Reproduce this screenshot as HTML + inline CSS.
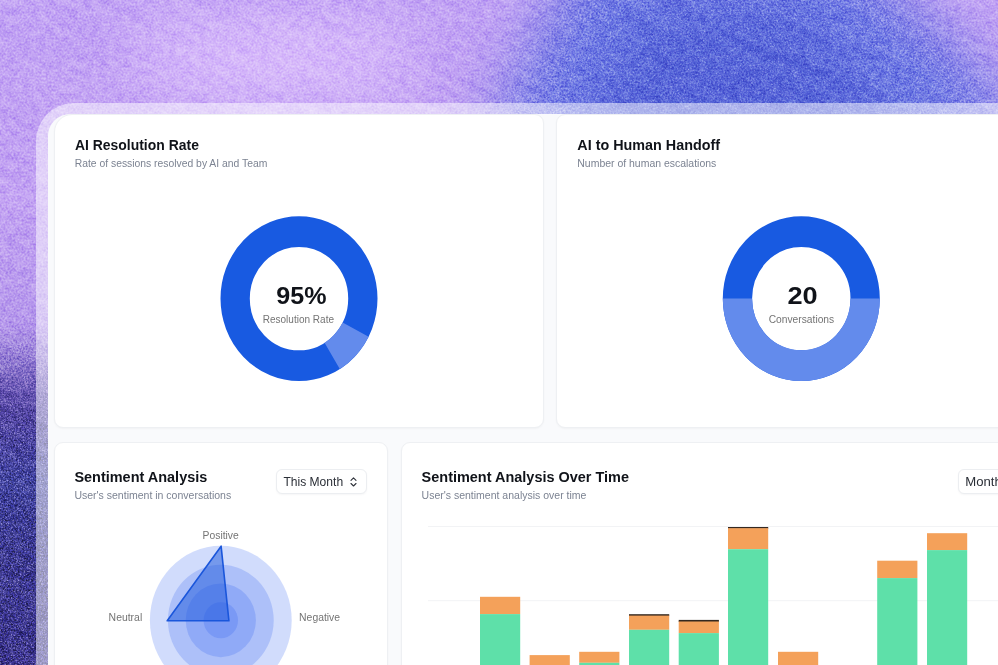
<!DOCTYPE html>
<html>
<head>
<meta charset="utf-8">
<title>Dashboard</title>
<style>
html,body{margin:0;padding:0;}
body{width:998px;height:665px;overflow:hidden;position:relative;background:#b79cf0;font-family:"Liberation Sans",sans-serif;}
#bg{position:absolute;left:0;top:0;width:998px;height:665px;display:block;}
#frame{position:absolute;left:36px;top:102.5px;width:1100px;height:700px;border-radius:38px 0 0 0;background:rgba(255,255,255,0.5);}
#app{position:absolute;left:48px;top:113.7px;width:1100px;height:700px;border-radius:22px 0 0 0;background:#f9fafc;overflow:hidden;}
.card{position:absolute;background:#fff;border:1px solid #eef0f3;border-radius:9px;box-shadow:0 1px 2px rgba(16,24,40,0.035);box-sizing:border-box;}
.btn{position:absolute;background:#fff;border:1px solid #eceef1;border-radius:6px;box-shadow:0 1px 2px rgba(16,24,40,0.04);box-sizing:border-box;}
#ov{position:absolute;left:0;top:0;width:998px;height:665px;display:block;}
#ov text{font-family:"Liberation Sans",sans-serif;}
.h{font-weight:bold;fill:#101319;}
.s{fill:#7c8392;}
.g{fill:#747474;}
.b{fill:#2b2f37;}
</style>
</head>
<body>
<svg id="bg" width="998" height="665" viewBox="0 0 998 665">
  <defs>
    <linearGradient id="lv" x1="0" y1="0" x2="0" y2="665" gradientUnits="userSpaceOnUse">
      <stop offset="0" stop-color="#c2a3f4"/>
      <stop offset="0.30" stop-color="#c1a0f2"/>
      <stop offset="0.49" stop-color="#b698ec"/>
      <stop offset="0.54" stop-color="#9078d2"/>
      <stop offset="0.585" stop-color="#6653b2"/>
      <stop offset="0.63" stop-color="#4b3f9d"/>
      <stop offset="0.72" stop-color="#3b3d99"/>
      <stop offset="0.84" stop-color="#36338b"/>
      <stop offset="1" stop-color="#342d85"/>
    </linearGradient>
    <filter id="blur40" x="-50%" y="-50%" width="200%" height="200%"><feGaussianBlur stdDeviation="32"/></filter>
    <filter id="blur25" x="-50%" y="-50%" width="200%" height="200%"><feGaussianBlur stdDeviation="22"/></filter>
    <filter id="mottle" x="0" y="0" width="100%" height="100%" color-interpolation-filters="sRGB">
      <feTurbulence type="fractalNoise" baseFrequency="0.012 0.11" numOctaves="3" seed="11"/>
      <feColorMatrix type="matrix" values="2.4 0 0 0 -0.7  2.4 0 0 0 -0.7  2.4 0 0 0 -0.7  0 0 0 0 1"/>
    </filter>
    <filter id="blotch" x="0" y="0" width="100%" height="100%" color-interpolation-filters="sRGB">
      <feTurbulence type="fractalNoise" baseFrequency="0.13" numOctaves="3" seed="5"/>
      <feColorMatrix type="matrix" values="2.6 0 0 0 -0.8  2.6 0 0 0 -0.8  2.6 0 0 0 -0.8  0 0 0 0 1"/>
    </filter>
    <filter id="spk" x="0" y="0" width="100%" height="100%" color-interpolation-filters="sRGB">
      <feTurbulence type="fractalNoise" baseFrequency="0.7" numOctaves="2" seed="31"/>
      <feColorMatrix type="matrix" values="0 0 0 0 0.86  0 0 0 0 0.82  0 0 0 0 1  5 0 0 0 -2.75"/>
    </filter>
    <linearGradient id="dmg" x1="0" y1="300" x2="0" y2="430" gradientUnits="userSpaceOnUse">
      <stop offset="0" stop-color="#000"/><stop offset="1" stop-color="#fff"/>
    </linearGradient>
    <mask id="dm" maskUnits="userSpaceOnUse" x="0" y="0" width="998" height="665">
      <rect x="0" y="0" width="60" height="665" fill="url(#dmg)"/>
      <polygon points="600,-60 850,-60 1050,150 470,150" fill="#666" filter="url(#blur25)"/>
    </mask>
    <filter id="noise2" x="0" y="0" width="100%" height="100%" color-interpolation-filters="sRGB">
      <feTurbulence type="fractalNoise" baseFrequency="0.6" numOctaves="3" seed="19"/>
      <feColorMatrix type="matrix" values="2.4 0 0 0 -0.7  2.4 0 0 0 -0.7  2.4 0 0 0 -0.7  0 0 0 0 1"/>
    </filter>
    <filter id="noise" x="0" y="0" width="100%" height="100%" color-interpolation-filters="sRGB">
      <feTurbulence type="fractalNoise" baseFrequency="0.5" numOctaves="3" seed="7"/>
      <feColorMatrix type="matrix" values="1.9 0 0 0 -0.44  1.9 0 0 0 -0.44  1.9 0 0 0 -0.44  0 0 0 0 1"/>
    </filter>
  </defs>
  <rect width="998" height="665" fill="url(#lv)"/>
  <ellipse cx="275" cy="60" rx="150" ry="40" fill="#dbbefc" filter="url(#blur40)"/>
  <polygon points="590,-60 840,-60 1060,150 480,150" fill="#6b77e3" filter="url(#blur40)"/>
  <polygon points="640,20 790,10 940,150 570,150" fill="#5563d8" filter="url(#blur25)"/>
  <g transform="rotate(27 500 50)"><rect x="-300" y="-700" width="1700" height="1700" filter="url(#mottle)" style="mix-blend-mode:soft-light" opacity="0.1"/></g>
  <rect width="998" height="665" filter="url(#blotch)" style="mix-blend-mode:soft-light" opacity="0.17"/>
  <rect width="998" height="665" filter="url(#noise)" style="mix-blend-mode:overlay" opacity="0.24"/>
  <rect width="998" height="665" filter="url(#spk)" opacity="0.12"/>
  <g mask="url(#dm)" style="mix-blend-mode:overlay" opacity="0.4">
    <rect width="998" height="665" filter="url(#noise2)"/>
  </g>
  <g mask="url(#dm)" opacity="0.3">
    <rect width="998" height="665" filter="url(#spk)"/>
  </g>
</svg>

<div id="frame"></div>
<div id="app"></div>

<div class="card" style="left:53.6px;top:113.7px;width:490.2px;height:314.4px;border-radius:18px 9px 9px 9px;"></div>
<div class="card" style="left:556.2px;top:113.7px;width:500px;height:314.4px;"></div>
<div class="card" style="left:53.6px;top:442.1px;width:334.6px;height:300px;"></div>
<div class="card" style="left:400.9px;top:442.1px;width:700px;height:300px;"></div>

<div class="btn" style="left:275.5px;top:469.3px;width:91px;height:24.8px;"></div>
<div class="btn" style="left:957.7px;top:469.3px;width:91px;height:24.8px;"></div>

<svg id="ov" width="998" height="665" viewBox="0 0 998 665">
  <!-- donut 1 -->
  <g transform="translate(299,298.6) scale(1,1.05)">
    <circle r="63.85" fill="none" stroke="#185ae1" stroke-width="29.3"/>
    <path d="M 69.63 36.25 A 78.5 78.5 0 0 1 40.78 67.08 L 25.56 42.04 A 49.2 49.2 0 0 0 43.64 22.72 Z" fill="#638bec"/>
  </g>
  <!-- donut 2 -->
  <g transform="translate(801.3,298.6) scale(1,1.05)">
    <circle r="63.85" fill="none" stroke="#185ae1" stroke-width="29.3"/>
    <path d="M -78.5 0 A 78.5 78.5 0 0 0 78.5 0 L 49.2 0 A 49.2 49.2 0 0 1 -49.2 0 Z" fill="#638bec"/>
  </g>
  <g stroke="#f2f3f5" stroke-width="1">
    <line x1="428" y1="526.5" x2="998" y2="526.5"/>
    <line x1="428" y1="600.7" x2="998" y2="600.7"/>
  </g>
  <g shape-rendering="auto">
    <rect x="480.0" y="596.8" width="40.2" height="17.3" fill="#f4a15a"/>
    <rect x="480.0" y="614.1" width="40.2" height="55.9" fill="#5ee0a9"/>
    <rect x="529.6" y="655.1" width="40.2" height="15.4" fill="#f4a15a"/>
    <rect x="579.2" y="651.8" width="40.2" height="11.0" fill="#f4a15a"/>
    <rect x="579.2" y="662.8" width="40.2" height="7.2" fill="#5ee0a9"/>
    <rect x="629.0" y="614.2" width="40.2" height="1.9" fill="#35281f"/>
    <rect x="629.0" y="615.6" width="40.2" height="14.2" fill="#f4a15a"/>
    <rect x="629.0" y="629.8" width="40.2" height="40.2" fill="#5ee0a9"/>
    <rect x="678.7" y="619.9" width="40.2" height="2.1" fill="#35281f"/>
    <rect x="678.7" y="621.5" width="40.2" height="11.6" fill="#f4a15a"/>
    <rect x="678.7" y="633.1" width="40.2" height="36.9" fill="#5ee0a9"/>
    <rect x="728.0" y="527.0" width="40.2" height="1.7" fill="#35281f"/>
    <rect x="728.0" y="528.2" width="40.2" height="21.0" fill="#f4a15a"/>
    <rect x="728.0" y="549.2" width="40.2" height="120.8" fill="#5ee0a9"/>
    <rect x="778.0" y="651.8" width="40.2" height="18.7" fill="#f4a15a"/>
    <rect x="877.2" y="560.7" width="40.2" height="17.4" fill="#f4a15a"/>
    <rect x="877.2" y="578.1" width="40.2" height="91.9" fill="#5ee0a9"/>
    <rect x="927.0" y="533.2" width="40.2" height="16.9" fill="#f4a15a"/>
    <rect x="927.0" y="550.1" width="40.2" height="119.9" fill="#5ee0a9"/>
  </g>
  <g transform="translate(220.8,620.3) scale(1,1.05)">
    <circle r="70.9" fill="#2c5cf0" fill-opacity="0.215"/>
    <circle r="52.9" fill="#2c5cf0" fill-opacity="0.215"/>
    <circle r="35.1" fill="#2c5cf0" fill-opacity="0.215"/>
    <circle r="17.2" fill="#2c5cf0" fill-opacity="0.215"/>
    <path d="M0.3 -70.6 L8.1 0.4 L-53.6 0.4 Z" fill="#1a56db" fill-opacity="0.5" stroke="#1a56db" stroke-width="1.6" stroke-linejoin="round"/>
  </g>
  <g fill="none" stroke="#30343c" stroke-width="1.1" stroke-linecap="round" stroke-linejoin="round">
    <path d="M351 480.3 L353.5 477.8 L356 480.3"/>
    <path d="M351 483.5 L353.5 486 L356 483.5"/>
  </g>
  <text class="h" transform="translate(74.9,150.3) scale(1,1.07)" font-size="14.4" textLength="124" lengthAdjust="spacingAndGlyphs">AI Resolution Rate</text>
  <text class="s" transform="translate(74.7,167.0) scale(1,1.05)" font-size="10.3" textLength="192.6" lengthAdjust="spacingAndGlyphs">Rate of sessions resolved by AI and Team</text>
  <text class="h" transform="translate(577.3,150.3) scale(1,1.07)" font-size="14.4" textLength="142.7" lengthAdjust="spacingAndGlyphs">AI to Human Handoff</text>
  <text class="s" transform="translate(577.3,167.0) scale(1,1.05)" font-size="10.3" textLength="139" lengthAdjust="spacingAndGlyphs">Number of human escalations</text>
  <text class="h" transform="translate(276.3,304.3) scale(1,1.05)" font-size="23.4" textLength="50.2" lengthAdjust="spacingAndGlyphs">95%</text>
  <text class="g" transform="translate(262.7,322.7) scale(1,1.05)" font-size="10.5" textLength="71.3" lengthAdjust="spacingAndGlyphs">Resolution Rate</text>
  <text class="h" transform="translate(787.5,304.3) scale(1,1.05)" font-size="23.4" textLength="30.2" lengthAdjust="spacingAndGlyphs">20</text>
  <text class="g" transform="translate(768.7,322.7) scale(1,1.05)" font-size="10.5" textLength="65.5" lengthAdjust="spacingAndGlyphs">Conversations</text>
  <text class="h" transform="translate(74.4,481.8) scale(1,1.07)" font-size="14.4" textLength="132.9" lengthAdjust="spacingAndGlyphs">Sentiment Analysis</text>
  <text class="s" transform="translate(74.4,498.6) scale(1,1.05)" font-size="10.3" textLength="156.8" lengthAdjust="spacingAndGlyphs">User's sentiment in conversations</text>
  <text class="b" transform="translate(283.4,486) scale(1,1.05)" font-size="12.6" textLength="59.7" lengthAdjust="spacingAndGlyphs">This Month</text>
  <text class="g" transform="translate(202.6,539) scale(1,1.05)" font-size="10.5" textLength="36.2" lengthAdjust="spacingAndGlyphs">Positive</text>
  <text class="g" transform="translate(108.6,620.6) scale(1,1.05)" font-size="10.5" textLength="33.6" lengthAdjust="spacingAndGlyphs">Neutral</text>
  <text class="g" transform="translate(299.1,620.6) scale(1,1.05)" font-size="10.5" textLength="41" lengthAdjust="spacingAndGlyphs">Negative</text>
  <text class="h" transform="translate(421.6,481.8) scale(1,1.07)" font-size="14.4" textLength="207.4" lengthAdjust="spacingAndGlyphs">Sentiment Analysis Over Time</text>
  <text class="s" transform="translate(421.6,498.6) scale(1,1.05)" font-size="10.3" textLength="164.8" lengthAdjust="spacingAndGlyphs">User's sentiment analysis over time</text>
  <text class="b" transform="translate(965.2,486) scale(1,1.05)" font-size="12.6" textLength="36.5" lengthAdjust="spacingAndGlyphs">Month</text>
</svg>
</body>
</html>
